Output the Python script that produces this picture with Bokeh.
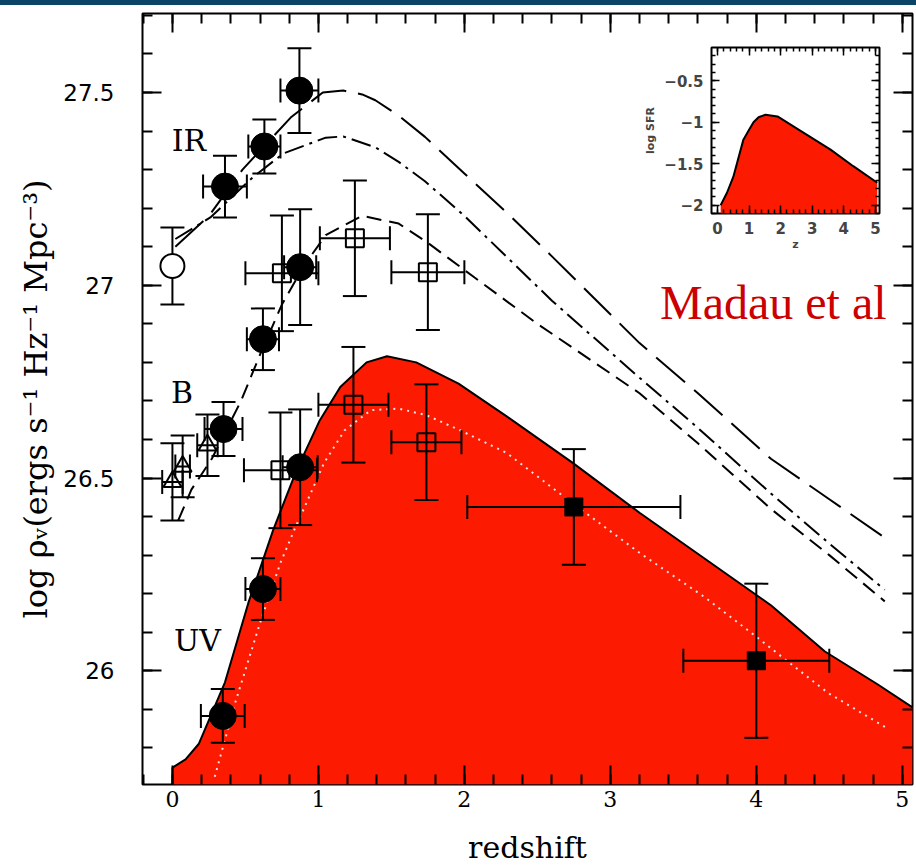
from bokeh.plotting import figure
from bokeh.models import Range1d, LinearAxis, SingleIntervalTicker, Label, Div, CustomJSTickFormatter
from bokeh.layouts import column
from bokeh.embed import file_html
from bokeh.resources import INLINE

# ---------------- data ----------------
# model curves
ir_long_z = [0.02, 0.25, 0.48, 0.81, 1.03, 1.17, 1.3, 1.39, 1.55, 1.73, 2.0, 2.3, 2.6, 3.2, 3.6, 4.1, 4.5, 4.88]
ir_long_v = [27.10, 27.18, 27.30, 27.435, 27.50, 27.505, 27.495, 27.48, 27.44, 27.385, 27.29, 27.185, 27.075, 26.85, 26.72, 26.55, 26.445, 26.345]

ir_dd_z = [0.02, 0.26, 0.55, 0.76, 1.05, 1.17, 1.39, 1.55, 1.73, 2.0, 2.3, 2.6, 3.2, 3.6, 4.1, 4.5, 4.88]
ir_dd_v = [27.12, 27.176, 27.28, 27.342, 27.383, 27.386, 27.358, 27.32, 27.27, 27.18, 27.07, 26.96, 26.76, 26.63, 26.46, 26.33, 26.21]

b_z = [0.04, 0.13, 0.27, 0.47, 0.6, 0.75, 0.9, 1.05, 1.3, 1.55, 1.75, 2.07, 2.5, 3.2, 3.6, 4.1, 4.5, 4.88]
b_v = [26.39, 26.47, 26.55, 26.70, 26.82, 26.95, 27.05, 27.13, 27.18, 27.16, 27.11, 27.02, 26.90, 26.72, 26.59, 26.42, 26.30, 26.18]

uv_z = [0.0, 0.09, 0.18, 0.36, 0.52, 0.69, 0.85, 1.01, 1.15, 1.33, 1.47, 1.67, 1.96, 2.29, 2.74, 3.2, 3.65, 4.1, 4.47, 4.83, 5.07]
uv_v = [25.749, 25.77, 25.81, 25.97, 26.176, 26.365, 26.52, 26.65, 26.736, 26.80, 26.816, 26.80, 26.745, 26.66, 26.54, 26.41, 26.29, 26.17, 26.05, 25.965, 25.905]

uvdot_z = [0.29, 0.43, 0.6, 0.74, 0.84, 0.9, 1.04, 1.18, 1.36, 1.55, 1.74, 1.97, 2.29, 2.74, 3.2, 3.65, 3.96, 4.49, 4.9]
uvdot_v = [25.725, 25.917, 26.124, 26.28, 26.37, 26.42, 26.54, 26.624, 26.676, 26.68, 26.663, 26.624, 26.565, 26.435, 26.306, 26.19, 26.10, 25.943, 25.85]

# data points: filled circles (IR, B, UV)
fc_z = [0.36, 0.63, 0.87, 0.35, 0.62, 0.875, 0.345, 0.62, 0.875]
fc_v = [27.256, 27.36, 27.505, 26.627, 26.86, 27.047, 25.883, 26.212, 26.528]
fc_dz = [0.15, 0.11, 0.13, 0.13, 0.11, 0.11, 0.15, 0.12, 0.12]
fc_dv = [0.08, 0.07, 0.11, 0.07, 0.08, 0.15, 0.07, 0.08, 0.15]

# open circle (local IR)
oc_z = [0.0]
oc_v = [27.05]
oc_dv = [0.10]

# open squares
os_z = [0.75, 1.25, 1.75, 0.74, 1.24, 1.74]
os_v = [27.031, 27.122, 27.034, 26.52, 26.69, 26.593]
os_dz = [0.25, 0.24, 0.25, 0.25, 0.24, 0.24]
os_dv = [0.15, 0.15, 0.15, 0.15, 0.15, 0.15]

# filled squares
fs_z = [2.75, 4.0]
fs_v = [26.425, 26.026]
fs_dz = [0.73, 0.5]
fs_dv = [0.15, 0.2]

# open triangles (local B)
tr_z = [0.0, 0.07, 0.24]
tr_v = [26.49, 26.53, 26.585]
tr_dz = [0.07, 0.05, 0.07]
tr_dv = [0.10, 0.08, 0.08]

# inset: log SFR vs z
in_z = [0.1, 0.3, 0.5, 0.82, 1.0, 1.14, 1.3, 1.52, 1.9, 2.53, 3.58, 4.3, 5.06]
in_v = [-2.0, -1.85, -1.66, -1.21, -1.09, -1.0, -0.94, -0.91, -0.93, -1.08, -1.33, -1.53, -1.73]

# tick labels
y_tick_vals = [26.0, 26.5, 27.0, 27.5]
y_tick_labels = ["26", "26.5", "27", "27.5"]
in_y_tick_vals = [-2.0, -1.5, -1.0, -0.5]
in_y_tick_labels = ["\u22122", "\u22121.5", "\u22121", "\u22120.5"]

RED = "#fc1b00"
SERIF = "DejaVu Serif"
SANS = "DejaVu Sans"

# ---------------- main figure ----------------
p = figure(width=916, height=862, x_range=Range1d(-0.205, 5.07), y_range=Range1d(25.705, 27.705),
           output_backend="svg", toolbar_location=None,
           x_axis_location=None, y_axis_location=None,
           min_border_left=142, min_border_right=4, min_border_top=8, min_border_bottom=82,
           background_fill_color="white", border_fill_color="white")
p.xgrid.visible = False
p.ygrid.visible = False
p.outline_line_color = "black"
p.outline_line_width = 2


def tick_style(ax, maj=19, mnr=10, lw=2):
    ax.axis_line_color = None
    ax.major_tick_in = maj
    ax.major_tick_out = 0
    ax.minor_tick_in = mnr
    ax.minor_tick_out = 0
    ax.major_tick_line_width = lw
    ax.minor_tick_line_width = lw
    ax.major_tick_line_color = "black"
    ax.minor_tick_line_color = "black"


def hide_labels(ax):
    ax.formatter = CustomJSTickFormatter(code="return '';")
    ax.major_label_text_font_size = "1px"
    ax.major_label_standoff = 0


xb = LinearAxis(ticker=SingleIntervalTicker(interval=1, num_minor_ticks=5))
tick_style(xb)
xb.major_label_text_font = SERIF
xb.major_label_text_font_size = "22px"
xb.major_label_text_color = "black"
xb.major_label_standoff = 6
xb.axis_label = "redshift"
xb.axis_label_text_font = SERIF
xb.axis_label_text_font_size = "30px"
xb.axis_label_text_font_style = "normal"
xb.axis_label_text_color = "black"
xb.axis_label_standoff = 20
p.add_layout(xb, "below")

xt = LinearAxis(ticker=SingleIntervalTicker(interval=1, num_minor_ticks=5))
tick_style(xt)
hide_labels(xt)
p.add_layout(xt, "above")

yl = LinearAxis(ticker=SingleIntervalTicker(interval=0.5, num_minor_ticks=5))
tick_style(yl)
yl.major_label_overrides = dict(zip(y_tick_vals, y_tick_labels))
yl.major_label_text_font = SANS
yl.major_label_text_font_size = "23px"
yl.major_label_text_color = "black"
yl.major_label_standoff = 28
yl.axis_label = "log \u03c1\u1d65(ergs s\u207b\u00b9 Hz\u207b\u00b9 Mpc\u207b\u00b3)"
yl.axis_label_text_font = SERIF
yl.axis_label_text_font_size = "32px"
yl.axis_label_text_font_style = "normal"
yl.axis_label_text_color = "black"
yl.axis_label_standoff = 5
p.add_layout(yl, "left")

yr = LinearAxis(ticker=SingleIntervalTicker(interval=0.5, num_minor_ticks=5))
tick_style(yr)
hide_labels(yr)
p.add_layout(yr, "right")

# UV model: red filled area with black outline
p.varea(x=uv_z, y1=25.705, y2=uv_v, fill_color=RED, fill_alpha=1.0)
p.line(uv_z, uv_v, line_color="black", line_width=2)
p.segment(x0=[uv_z[0]], y0=[25.705], x1=[uv_z[0]], y1=[uv_v[0]], line_color="black", line_width=2)
p.line(uvdot_z, uvdot_v, line_color="#e6e6e6", line_width=2, line_dash="2 5")

# IR and B models
p.line(ir_long_z, ir_long_v, line_color="black", line_width=2, line_dash="38 12")
p.line(ir_dd_z, ir_dd_v, line_color="black", line_width=2, line_dash="20 6 3 6")
p.line(b_z, b_v, line_color="black", line_width=2, line_dash="15 8")


def errbars(z, v, dz, dv, cap=24):
    if dv is not None:
        lo = [a - b for a, b in zip(v, dv)]
        hi = [a + b for a, b in zip(v, dv)]
        p.segment(x0=z, y0=lo, x1=z, y1=hi, line_color="black", line_width=2)
        p.scatter(x=z + z, y=lo + hi, marker="dash", size=cap, line_color="black", line_width=2)
    if dz is not None:
        left = [a - b for a, b in zip(z, dz)]
        right = [a + b for a, b in zip(z, dz)]
        p.segment(x0=left, y0=v, x1=right, y1=v, line_color="black", line_width=2)
        p.scatter(x=left + right, y=v + v, marker="dash", angle=1.5708, size=cap,
                  line_color="black", line_width=2)


errbars(fc_z, fc_v, fc_dz, fc_dv)
errbars(oc_z, oc_v, None, oc_dv)
errbars(os_z, os_v, os_dz, os_dv)
errbars(fs_z, fs_v, fs_dz, fs_dv)
errbars(tr_z, tr_v, tr_dz, tr_dv)

p.scatter(fc_z, fc_v, marker="circle", size=27, fill_color="black", line_color="black")
p.scatter(oc_z, oc_v, marker="circle", size=24, fill_color="white", line_color="black", line_width=2)
p.scatter(os_z, os_v, marker="square", size=18, fill_color=None, line_color="black", line_width=2)
p.scatter(fs_z, fs_v, marker="square", size=18, fill_color="black", line_color="black")
p.scatter(tr_z, tr_v, marker="triangle", size=18, fill_color=None, line_color="black", line_width=2)

for txt, xx, yy in [("IR", -0.005, 27.376), ("B", -0.01, 26.723), ("UV", 0.01, 26.078)]:
    p.add_layout(Label(x=xx, y=yy, text=txt, text_font=SERIF, text_font_size="30px",
                       text_color="black", text_baseline="middle", text_align="left"))

p.add_layout(Label(x=3.34, y=26.956, text="Madau et al", text_font="Liberation Serif",
                   text_font_size="48px", text_color="#cc0000", text_baseline="middle",
                   text_align="left"))

# ---------------- inset ----------------
# column layouts align plot borders, so the inset uses the same side borders as the main plot
ins = figure(width=314, height=214, x_range=Range1d(-0.19, 5.13), y_range=Range1d(-2.1, -0.1),
             output_backend="svg", toolbar_location=None,
             x_axis_location=None, y_axis_location=None,
             min_border_left=142, min_border_right=4, min_border_top=2, min_border_bottom=46,
             background_fill_color="white", border_fill_color="white", border_fill_alpha=0.0)
ins.xgrid.visible = False
ins.ygrid.visible = False
ins.outline_line_color = "black"
ins.outline_line_width = 2

ixb = LinearAxis(ticker=SingleIntervalTicker(interval=1, num_minor_ticks=5))
tick_style(ixb, maj=8, mnr=4, lw=1.5)
ixb.major_label_text_font = SANS
ixb.major_label_text_font_style = "bold"
ixb.major_label_text_font_size = "15px"
ixb.major_label_standoff = 8
ixb.axis_label = "z"
ixb.axis_label_text_font = SANS
ixb.axis_label_text_font_style = "bold"
ixb.axis_label_text_font_size = "11px"
ixb.axis_label_standoff = 1
ins.add_layout(ixb, "below")

ixt = LinearAxis(ticker=SingleIntervalTicker(interval=1, num_minor_ticks=5))
tick_style(ixt, maj=8, mnr=4, lw=1.5)
hide_labels(ixt)
ins.add_layout(ixt, "above")

iyl = LinearAxis(ticker=SingleIntervalTicker(interval=0.5, num_minor_ticks=5))
tick_style(iyl, maj=8, mnr=4, lw=1.5)
iyl.major_label_overrides = dict(zip(in_y_tick_vals, in_y_tick_labels))
iyl.major_label_text_font = SANS
iyl.major_label_text_font_style = "bold"
iyl.major_label_text_font_size = "15px"
iyl.major_label_standoff = 8
iyl.axis_label = "log SFR"
iyl.axis_label_text_font = SANS
iyl.axis_label_text_font_style = "bold"
iyl.axis_label_text_font_size = "11px"
iyl.axis_label_standoff = 4
ins.add_layout(iyl, "left")

iyr = LinearAxis(ticker=SingleIntervalTicker(interval=0.5, num_minor_ticks=5))
tick_style(iyr, maj=8, mnr=4, lw=1.5)
hide_labels(iyr)
ins.add_layout(iyr, "right")

ins.varea(x=in_z, y1=-2.1, y2=in_v, fill_color=RED)
ins.line(in_z, in_v, line_color="black", line_width=2)

ins.margin = (-822, 0, 0, 569)

header = Div(text="", width=916, height=5, styles={"background-color": "#0b4566"})
header.margin = (0, 0, 0, 0)
p.margin = (0, 0, 0, 0)

layout = column(header, p, ins, spacing=0)
layout.margin = (0, 0, 0, 0)

open("out.html", "w").write(file_html(layout, INLINE))
